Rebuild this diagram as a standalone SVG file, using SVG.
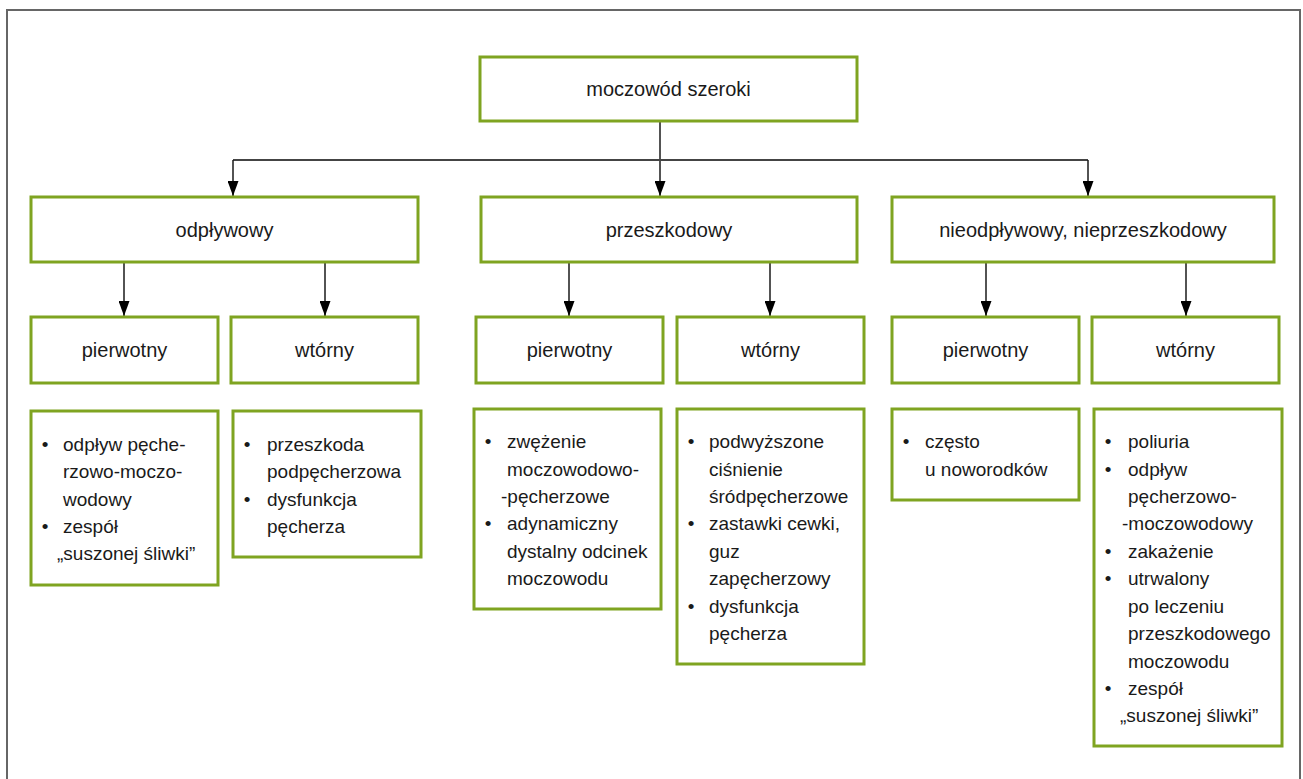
<svg xmlns="http://www.w3.org/2000/svg" width="1303" height="779" viewBox="0 0 1303 779">
<style>
.box{fill:#fff;stroke:#7fa421;stroke-width:3}
.h{font-family:"Liberation Sans",Arial,sans-serif;font-size:20px;fill:#1a1a1a;text-anchor:middle}
.t{font-family:"Liberation Sans",Arial,sans-serif;font-size:19px;fill:#1a1a1a}
.b{font-family:"Liberation Sans",Arial,sans-serif;font-size:19px;fill:#1a1a1a;text-anchor:middle}
.c{fill:none;stroke:#1a1a1a;stroke-width:1.5}
.frame{fill:none;stroke:#666;stroke-width:2}
</style>
<defs>
<marker id="arr" viewBox="0 0 15 11" refX="15" refY="5.5" markerWidth="15" markerHeight="11" markerUnits="userSpaceOnUse" orient="auto">
<path d="M0,0 L15,5.5 L0,11 z" fill="#000"/>
</marker>
</defs>
<rect width="1303" height="779" fill="#fff"/>
<path class="frame" d="M7,779 V10 H1300 V779"/>

<g id="connectors">
<path class="c" d="M660,121 V196" marker-end="url(#arr)"/>
<path class="c" d="M233,160 H1088" style="stroke:#444;stroke-width:2"/>
<path class="c" d="M233,160 V196" marker-end="url(#arr)"/>
<path class="c" d="M1088,160 V196" marker-end="url(#arr)"/>
<path class="c" d="M124,262 V316" marker-end="url(#arr)"/>
<path class="c" d="M325,262 V316" marker-end="url(#arr)"/>
<path class="c" d="M569,262 V316" marker-end="url(#arr)"/>
<path class="c" d="M770,262 V316" marker-end="url(#arr)"/>
<path class="c" d="M986,262 V316" marker-end="url(#arr)"/>
<path class="c" d="M1186,262 V316" marker-end="url(#arr)"/>
</g>

<g id="root">
<rect class="box" x="480" y="57" width="377" height="64"/>
<text class="h" x="668.5" y="96">moczowód szeroki</text>
</g>

<g id="odplywowy">
<rect class="box" x="31" y="197" width="387" height="65"/>
<text class="h" x="224.5" y="237">odpływowy</text>
</g>
<g id="przeszkodowy">
<rect class="box" x="481" y="197" width="376" height="65"/>
<text class="h" x="669" y="237">przeszkodowy</text>
</g>
<g id="nieodplywowy">
<rect class="box" x="892" y="197" width="382" height="65"/>
<text class="h" x="1083" y="237">nieodpływowy, nieprzeszkodowy</text>
</g>

<g id="odp-pierwotny">
<rect class="box" x="31" y="317" width="187" height="66"/>
<text class="h" x="124.5" y="357">pierwotny</text>
</g>
<g id="odp-wtorny">
<rect class="box" x="231" y="317" width="187" height="66"/>
<text class="h" x="324.5" y="357">wtórny</text>
</g>
<g id="prz-pierwotny">
<rect class="box" x="476" y="317" width="187" height="66"/>
<text class="h" x="569.5" y="357">pierwotny</text>
</g>
<g id="prz-wtorny">
<rect class="box" x="677" y="317" width="187" height="66"/>
<text class="h" x="770.5" y="357">wtórny</text>
</g>
<g id="nie-pierwotny">
<rect class="box" x="892" y="317" width="187" height="66"/>
<text class="h" x="985.5" y="357">pierwotny</text>
</g>
<g id="nie-wtorny">
<rect class="box" x="1092" y="317" width="187" height="66"/>
<text class="h" x="1185.5" y="357">wtórny</text>
</g>

<g id="odp-pierwotny-list">
<rect class="box" x="31" y="411" width="187" height="174"/>
<text class="b" x="45" y="451">•</text>
<text class="t" x="63" y="451">odpływ pęche-</text>
<text class="t" x="63" y="478">rzowo-moczo-</text>
<text class="t" x="63" y="506">wodowy</text>
<text class="b" x="45" y="533">•</text>
<text class="t" x="63" y="533">zespół</text>
<text class="t" x="57" y="560">„suszonej śliwki”</text>
</g>
<g id="odp-wtorny-list">
<rect class="box" x="233" y="411" width="188" height="146"/>
<text class="b" x="247" y="451">•</text>
<text class="t" x="267" y="451">przeszkoda</text>
<text class="t" x="267" y="478">podpęcherzowa</text>
<text class="b" x="247" y="506">•</text>
<text class="t" x="267" y="506">dysfunkcja</text>
<text class="t" x="267" y="533">pęcherza</text>
</g>
<g id="prz-pierwotny-list">
<rect class="box" x="474" y="409" width="187" height="200"/>
<text class="b" x="488" y="448">•</text>
<text class="t" x="507" y="448">zwężenie</text>
<text class="t" x="507" y="476">moczowodowo-</text>
<text class="t" x="501" y="503">-pęcherzowe</text>
<text class="b" x="488" y="530">•</text>
<text class="t" x="507" y="530">adynamiczny</text>
<text class="t" x="507" y="558">dystalny odcinek</text>
<text class="t" x="507" y="585">moczowodu</text>
</g>
<g id="prz-wtorny-list">
<rect class="box" x="677" y="409" width="187" height="255"/>
<text class="b" x="691" y="448">•</text>
<text class="t" x="709" y="448">podwyższone</text>
<text class="t" x="709" y="476">ciśnienie</text>
<text class="t" x="709" y="503">śródpęcherzowe</text>
<text class="b" x="691" y="530">•</text>
<text class="t" x="709" y="530">zastawki cewki,</text>
<text class="t" x="709" y="558">guz</text>
<text class="t" x="709" y="585">zapęcherzowy</text>
<text class="b" x="691" y="613">•</text>
<text class="t" x="709" y="613">dysfunkcja</text>
<text class="t" x="709" y="640">pęcherza</text>
</g>
<g id="nie-pierwotny-list">
<rect class="box" x="892" y="409" width="187" height="91"/>
<text class="b" x="906" y="448">•</text>
<text class="t" x="925" y="448">często</text>
<text class="t" x="925" y="476">u noworodków</text>
</g>
<g id="nie-wtorny-list">
<rect class="box" x="1094" y="409" width="188" height="337"/>
<text class="b" x="1108" y="448">•</text>
<text class="t" x="1128" y="448">poliuria</text>
<text class="b" x="1108" y="476">•</text>
<text class="t" x="1128" y="476">odpływ</text>
<text class="t" x="1128" y="503">pęcherzowo-</text>
<text class="t" x="1122" y="530">-moczowodowy</text>
<text class="b" x="1108" y="558">•</text>
<text class="t" x="1128" y="558">zakażenie</text>
<text class="b" x="1108" y="585">•</text>
<text class="t" x="1128" y="585">utrwalony</text>
<text class="t" x="1128" y="613">po leczeniu</text>
<text class="t" x="1128" y="640">przeszkodowego</text>
<text class="t" x="1128" y="668">moczowodu</text>
<text class="b" x="1108" y="695">•</text>
<text class="t" x="1128" y="695">zespół</text>
<text class="t" x="1120" y="722">„suszonej śliwki”</text>
</g>
</svg>
